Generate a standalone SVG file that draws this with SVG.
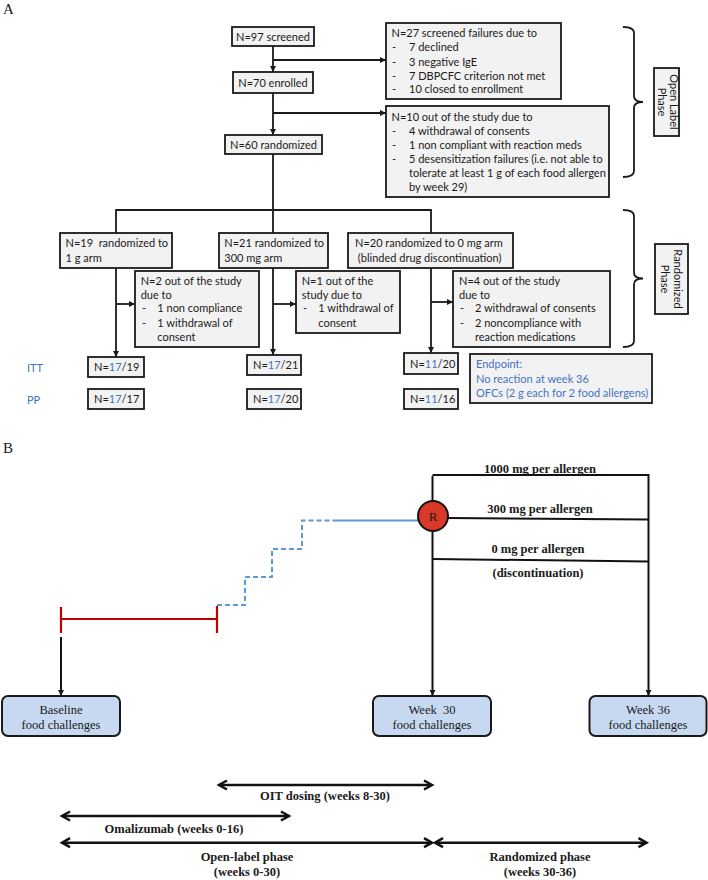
<svg xmlns="http://www.w3.org/2000/svg" width="708" height="880" viewBox="0 0 708 880">
<defs>
<style>
.bx{fill:#f2f2f2;stroke:#1a1a1a;stroke-width:1.8}
.t{font-family:Lato,"Liberation Sans",sans-serif;font-size:11px;fill:#1a1a1a}
.bl{fill:#4472c4}
.c{text-anchor:middle}
.ln{fill:none;stroke:#1a1a1a;stroke-width:1.8}
.ar{marker-end:url(#ah)}
.s{font-family:"Liberation Serif","Times New Roman",serif;fill:#1a1a1a}
.sb{font-family:"Liberation Serif","Times New Roman",serif;font-weight:bold;font-size:12.5px;fill:#1a1a1a;text-anchor:middle}
.rb{fill:#c6d9f0;stroke:#1a1a1a;stroke-width:2}
.bln{fill:none;stroke:#111;stroke-width:2}
.tl{fill:none;stroke:#111;stroke-width:2.5;marker-start:url(#ch);marker-end:url(#ch)}
</style>
<marker id="ah" markerUnits="userSpaceOnUse" markerWidth="7" markerHeight="7" refX="6" refY="3" orient="auto">
<path d="M0,0 L6,3 L0,6 z" fill="#1a1a1a"/>
</marker>
<marker id="ch" markerUnits="userSpaceOnUse" markerWidth="12" markerHeight="12" refX="8" refY="5" orient="auto-start-reverse" overflow="visible">
<path d="M0,0.5 L8,5 L0,9.5" fill="none" stroke="#111" stroke-width="2.5"/>
</marker>
</defs>

<text class="s" x="3" y="13.5" font-size="15">A</text>
<text class="s" x="3" y="453" font-size="15">B</text>

<g id="connectors">
<path class="ln ar" d="M273,46 V72"/>
<path class="ln ar" d="M273,60 H386"/>
<path class="ln ar" d="M273,93 V135"/>
<path class="ln ar" d="M273,113 H386"/>
<path class="ln" d="M273,154 V233"/>
<path class="ln" d="M116,233 V210 H431 V233"/>
<path class="ln ar" d="M116,268 V357"/>
<path class="ln ar" d="M116,304 H135"/>
<path class="ln ar" d="M273,268 V355"/>
<path class="ln ar" d="M273,304 H296"/>
<path class="ln ar" d="M431,268 V353"/>
<path class="ln ar" d="M431,302 H453"/>
<path class="ln" d="M623,27 Q634,27 634,33 V96 Q634,102 643,102 Q634,102 634,108 V171 Q634,177 623,177"/>
<path class="ln" d="M623,210 Q634,210 634,216 V272.5 Q634,278.5 643,278.5 Q634,278.5 634,284.5 V341 Q634,347 623,347"/>
</g>

<g id="screened"><rect class="bx" x="232" y="27" width="82" height="19"/><text class="t c" x="273" y="40.5">N=97 screened</text></g>
<g id="enrolled"><rect class="bx" x="233" y="72" width="80" height="21"/><text class="t c" x="273" y="86.5">N=70 enrolled</text></g>
<g id="randomized"><rect class="bx" x="225" y="135" width="97" height="19"/><text class="t c" x="273.5" y="148.5">N=60 randomized</text></g>

<g id="failures"><rect class="bx" x="386" y="23" width="175" height="76"/>
<text class="t" x="391.5" y="37.3">N=27 screened failures due to</text>
<text class="t" x="392" y="51.3">-</text><text class="t" x="409" y="51.3">7 declined</text>
<text class="t" x="392" y="65.7">-</text><text class="t" x="409" y="65.7">3 negative IgE</text>
<text class="t" x="392" y="79.7">-</text><text class="t" x="409" y="79.7">7 DBPCFC criterion not met</text>
<text class="t" x="392" y="93.3">-</text><text class="t" x="409" y="93.3">10 closed to enrollment</text>
</g>

<g id="withdrawn"><rect class="bx" x="386" y="106" width="223" height="91"/>
<text class="t" x="391.5" y="120.7">N=10 out of the study due to</text>
<text class="t" x="392" y="134.7">-</text><text class="t" x="409" y="134.7">4 withdrawal of consents</text>
<text class="t" x="392" y="149">-</text><text class="t" x="409" y="149">1 non compliant with reaction meds</text>
<text class="t" x="392" y="163">-</text><text class="t" x="409" y="163">5 desensitization failures (i.e. not able to</text>
<text class="t" x="409" y="177.3">tolerate at least 1 g of each food allergen</text>
<text class="t" x="409" y="190.7">by week 29)</text>
</g>

<g id="openlabel"><rect class="bx" x="654" y="68" width="25" height="68"/>
<text class="t c" x="674" y="102" dominant-baseline="central" transform="rotate(90,674,102)">Open Label</text>
<text class="t c" x="662" y="102" dominant-baseline="central" transform="rotate(90,662,102)">Phase</text>
</g>

<g id="randphase"><rect class="bx" x="655" y="244" width="33" height="70"/>
<text class="t c" x="678" y="279" dominant-baseline="central" transform="rotate(90,678,279)">Randomized</text>
<text class="t c" x="665" y="279" dominant-baseline="central" transform="rotate(90,665,279)">Phase</text>
</g>

<g id="arm1g"><rect class="bx" x="60" y="233" width="112" height="35"/>
<text class="t" x="65.5" y="247.3" xml:space="preserve">N=19  randomized to</text>
<text class="t" x="65.5" y="261.7">1 g arm</text></g>
<g id="arm300"><rect class="bx" x="219" y="233" width="109" height="35"/>
<text class="t" x="224.3" y="247.3">N=21 randomized to</text>
<text class="t" x="224.3" y="261.7">300 mg arm</text></g>
<g id="arm0"><rect class="bx" x="348" y="233" width="165" height="35"/>
<text class="t" x="355" y="247.3">N=20 randomized to 0 mg arm</text>
<text class="t" x="355" y="261.7" xml:space="preserve"> (blinded drug discontinuation)</text></g>

<g id="out1g"><rect class="bx" x="135" y="271" width="124" height="76"/>
<text class="t" x="140.7" y="285">N=2 out of the study</text>
<text class="t" x="140.7" y="299">due to</text>
<text class="t" x="142" y="312.3">-</text><text class="t" x="157.3" y="312.3">1 non compliance</text>
<text class="t" x="142" y="326.7">-</text><text class="t" x="157.3" y="326.7">1 withdrawal of</text>
<text class="t" x="157.3" y="341.3">consent</text></g>

<g id="out300"><rect class="bx" x="296" y="271" width="104" height="62"/>
<text class="t" x="301.7" y="285">N=1 out of the</text>
<text class="t" x="301.7" y="299">study due to</text>
<text class="t" x="303" y="312.3">-</text><text class="t" x="318.3" y="312.3">1 withdrawal of</text>
<text class="t" x="318.3" y="326.7">consent</text></g>

<g id="out0"><rect class="bx" x="453" y="271" width="157" height="76"/>
<text class="t" x="459" y="285">N=4 out of the study</text>
<text class="t" x="459" y="299">due to</text>
<text class="t" x="460" y="312.3">-</text><text class="t" x="475" y="312.3">2 withdrawal of consents</text>
<text class="t" x="460" y="326.7">-</text><text class="t" x="475" y="326.7">2 noncompliance with</text>
<text class="t" x="475" y="341.3">reaction medications</text></g>

<text class="t bl" x="27" y="372">ITT</text>
<text class="t bl" x="27" y="404">PP</text>

<g id="itt1"><rect class="bx" x="88" y="357" width="56" height="20"/><text class="t" x="94" y="371">N=<tspan class="bl">17</tspan>/19</text></g>
<g id="pp1"><rect class="bx" x="88" y="389" width="56" height="20"/><text class="t" x="94" y="403">N=<tspan class="bl">17</tspan>/17</text></g>
<g id="itt2"><rect class="bx" x="247" y="355" width="54" height="20"/><text class="t" x="253" y="369">N=<tspan class="bl">17</tspan>/21</text></g>
<g id="pp2"><rect class="bx" x="247" y="389" width="54" height="20"/><text class="t" x="253" y="403">N=<tspan class="bl">17</tspan>/20</text></g>
<g id="itt3"><rect class="bx" x="404" y="353" width="54" height="21"/><text class="t" x="410" y="367.7">N=<tspan class="bl">11</tspan>/20</text></g>
<g id="pp3"><rect class="bx" x="404" y="389" width="54" height="20"/><text class="t" x="410" y="403">N=<tspan class="bl">11</tspan>/16</text></g>

<g id="endpoint"><rect class="bx" x="470" y="354" width="182" height="49"/>
<text class="t bl" x="476" y="368.3">Endpoint:</text>
<text class="t bl" x="476" y="383">No reaction at week 36</text>
<text class="t bl" x="476" y="396.7">OFCs (2 g each for 2 food allergens)</text></g>

<g id="timeline">
<path d="M61,607 V633 M217,606 V633 M61,619 H217" fill="none" stroke="#c00000" stroke-width="2.2"/>
<path d="M217,605 H245 V577 H272 V549 H302 V520.5 H335" fill="none" stroke="#5b9bd5" stroke-width="2" stroke-dasharray="5,3"/>
<path d="M335,520.5 H420" fill="none" stroke="#5b9bd5" stroke-width="2"/>
<path class="bln" d="M61,637 V696" marker-end="url(#ah)"/>
<path class="bln" d="M432.5,476 V696" marker-end="url(#ah)"/>
<path class="bln" d="M432.5,475 H648.5 V696" marker-end="url(#ah)"/>
<path class="bln" d="M447,518 L648.5,519.5"/>
<path class="bln" d="M432.5,559 L648.5,561.5"/>
<path class="tl" d="M219,785 H432"/>
<path class="tl" d="M62,816 H289"/>
<path class="tl" d="M62,842.7 H432"/>
<path class="tl" d="M435,842.7 H646.5"/>
</g>

<g id="R"><circle cx="433" cy="516" r="15" fill="#d9382b" stroke="#111" stroke-width="2"/>
<text class="s" x="433" y="520.5" font-size="13" text-anchor="middle">R</text></g>

<text class="sb" x="540" y="473">1000 mg per allergen</text>
<text class="sb" x="540" y="513">300 mg per allergen</text>
<text class="sb" x="538" y="553">0 mg per allergen</text>
<text class="sb" x="538" y="577">(discontinuation)</text>

<g id="baseline"><rect class="rb" x="2" y="696" width="118" height="40" rx="6"/>
<text class="s" font-size="12.5" text-anchor="middle" x="61" y="714">Baseline</text>
<text class="s" font-size="12.5" text-anchor="middle" x="61" y="728.5">food challenges</text></g>
<g id="week30"><rect class="rb" x="373" y="696" width="118" height="40" rx="6"/>
<text class="s" font-size="12.5" text-anchor="middle" x="432" y="714" xml:space="preserve">Week  30</text>
<text class="s" font-size="12.5" text-anchor="middle" x="432" y="728.5">food challenges</text></g>
<g id="week36"><rect class="rb" x="589.5" y="696" width="117" height="40" rx="6"/>
<text class="s" font-size="12.5" text-anchor="middle" x="648" y="714">Week 36</text>
<text class="s" font-size="12.5" text-anchor="middle" x="648" y="728.5">food challenges</text></g>

<text class="sb" x="325" y="800">OIT dosing (weeks 8-30)</text>
<text class="sb" x="174" y="833">Omalizumab (weeks 0-16)</text>
<text class="sb" x="247" y="861">Open-label phase</text>
<text class="sb" x="247" y="876">(weeks 0-30)</text>
<text class="sb" x="540" y="861">Randomized phase</text>
<text class="sb" x="540" y="876">(weeks 30-36)</text>
</svg>
